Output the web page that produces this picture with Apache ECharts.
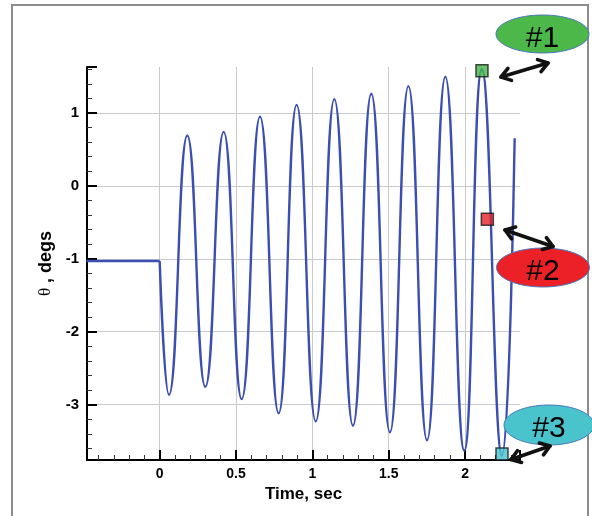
<!DOCTYPE html>
<html>
<head>
<meta charset="utf-8">
<script src="https://cdn.jsdelivr.net/npm/echarts@6/dist/echarts.min.js"></script>
<style>
  html, body { margin: 0; padding: 0; background: #ffffff; }
  #chart { width: 592px; height: 516px; }
</style>
</head>
<body>
<div id="chart"></div>
<script>
// Pitch angle response: steady trim, then growing oscillation after t = 0
const preStepTime  = [-0.48, 0];
const preStepTheta = [-1.03, -1.03];

// Turning points of the oscillation (time in s, theta in degrees)
const responseTime  = [0, 0.061, 0.181, 0.299, 0.419, 0.537, 0.657, 0.779, 0.897, 1.022,
                       1.144, 1.266, 1.386, 1.508, 1.629, 1.751, 1.871, 1.995, 2.110, 2.242, 2.325];
const responseTheta = [-1.03, -2.866, 0.69, -2.756, 0.74, -2.925, 0.95, -3.12, 1.11, -3.23,
                       1.19, -3.29, 1.263, -3.38, 1.368, -3.49, 1.496, -3.63, 1.60, -3.70, 0.654];

// Marked sample instants
const markerNames  = ['#1', '#2', '#3'];
const markerTime   = [2.111, 2.146, 2.242];
const markerTheta  = [1.58, -0.457, -3.676];
const markerColors = ['#45b549', '#e5222a', '#45c3cf'];

const xTickLabels = ['0', '0.5', '1', '1.5', '2'];
const yTickLabels = ['-3', '-2', '-1', '0', '1'];

const pair = (xs, ys) => xs.map((x, i) => [x, ys[i]]);

const chart = echarts.init(document.getElementById('chart'), null, { renderer: 'canvas' });

const FONT = '"Liberation Sans", Arial, Helvetica, sans-serif';
const CURVE = '#3b4fb3';

// double-headed callout arrow between two pixel points
function arrow(x1, y1, x2, y2) {
  const ang = Math.atan2(y2 - y1, x2 - x1);
  const L = 11, spread = 0.6;
  const head = (x, y, a) => [
    [x + L * Math.cos(a + spread), y + L * Math.sin(a + spread)],
    [x, y],
    [x + L * Math.cos(a - spread), y + L * Math.sin(a - spread)]
  ];
  const style = { stroke: '#111', lineWidth: 3.6, fill: null, lineCap: 'round', lineJoin: 'round' };
  return [
    { type: 'line', shape: { x1: x1, y1: y1, x2: x2, y2: y2 }, style: style, z: 100 },
    { type: 'polyline', shape: { points: head(x1, y1, ang) }, style: style, z: 100 },
    { type: 'polyline', shape: { points: head(x2, y2, ang + Math.PI) }, style: style, z: 100 }
  ];
}

function bubble(cx, cy, rx, ry, fill, label, ty) {
  return [
    { type: 'ellipse', shape: { cx: cx, cy: cy, rx: rx, ry: ry },
      style: { fill: fill, stroke: '#4a78be', lineWidth: 1 }, z: 100 },
    { type: 'text', x: cx, y: ty,
      style: { text: label, font: '30px ' + FONT, fill: '#000', align: 'center', verticalAlign: 'middle' }, z: 101 }
  ];
}

const graphics = [
  // slide frame
  { type: 'rect', shape: { x: 12, y: 5, width: 576, height: 540 },
    style: { fill: null, stroke: '#8c8c8c', lineWidth: 2 }, z: 0, silent: true }
]
  .concat(bubble(542.5, 34, 46.5, 19, '#4cb84a', markerNames[0], 38.5))
  .concat(arrow(501, 77, 548, 63))
  .concat(bubble(543, 267.5, 46.5, 19.5, '#ec2027', markerNames[1], 271.5))
  .concat(arrow(505, 230, 553, 246.5))
  .concat(bubble(549, 425, 45, 20, '#49c3cc', markerNames[2], 429))
  .concat(arrow(511, 459.5, 550, 446));

const option = {
  animation: false,
  backgroundColor: '#ffffff',
  grid: { left: 87, right: 72, top: 67, bottom: 56, containLabel: false },
  xAxis: {
    type: 'value',
    min: -0.476, max: 2.36,
    splitNumber: 5,
    name: 'Time, sec',
    nameLocation: 'middle',
    nameGap: 22,
    nameTextStyle: { fontFamily: FONT, fontWeight: 'bold', fontSize: 17, color: '#000' },
    axisLine: { show: true, onZero: false, lineStyle: { color: '#000', width: 2 } },
    axisTick: { show: true, inside: true, length: 10, lineStyle: { color: '#000', width: 2 } },
    minorTick: { show: true, splitNumber: 5, length: 5, lineStyle: { color: '#333', width: 1 } },
    axisLabel: {
      show: true, margin: 7, showMinLabel: false, showMaxLabel: false,
      fontFamily: FONT, fontWeight: 'bold', fontSize: 14, color: '#000',
      formatter: v => {
        const s = String(+v.toFixed(2));
        return xTickLabels.indexOf(s) >= 0 ? s : '';
      }
    },
    splitLine: { show: true, showMinLine: false, showMaxLine: false, lineStyle: { color: '#cacaca', width: 1 } },
    minorSplitLine: { show: false }
  },
  yAxis: {
    type: 'value',
    min: -3.76, max: 1.63,
    splitNumber: 5,
    name: '{t|θ} , degs',
    nameLocation: 'middle',
    nameGap: 32,
    nameRotate: 90,
    nameTextStyle: {
      fontFamily: FONT, fontWeight: 'bold', fontSize: 18, color: '#000',
      rich: { t: { fontFamily: '"Liberation Serif", serif', fontWeight: 'normal', fontSize: 17, color: '#000' } }
    },
    axisLine: { show: true, onZero: false, lineStyle: { color: '#000', width: 2 } },
    axisTick: { show: true, inside: true, length: 10, lineStyle: { color: '#000', width: 2 } },
    minorTick: { show: true, splitNumber: 5, length: 5, lineStyle: { color: '#333', width: 1 } },
    axisLabel: {
      show: true, margin: 8, showMinLabel: false, showMaxLabel: false,
      fontFamily: FONT, fontWeight: 'bold', fontSize: 15, color: '#000',
      formatter: v => {
        const s = String(+v.toFixed(2));
        return yTickLabels.indexOf(s) >= 0 ? s : '';
      }
    },
    splitLine: { show: true, showMinLine: false, showMaxLine: false, lineStyle: { color: '#cacaca', width: 1 } }
  },
  series: [
    {
      name: 'trim',
      type: 'line',
      data: pair(preStepTime, preStepTheta),
      showSymbol: false,
      lineStyle: { color: CURVE, width: 2.4 },
      z: 3
    },
    {
      name: 'response',
      type: 'line',
      data: pair(responseTime, responseTheta),
      smooth: 0.5,
      showSymbol: false,
      lineStyle: { color: CURVE, width: 2.4 },
      z: 3
    },
    {
      name: 'samples',
      type: 'scatter',
      clip: false,
      symbol: 'rect',
      symbolSize: 12,
      data: markerTime.map((t, i) => ({
        name: markerNames[i],
        value: [t, markerTheta[i]],
        itemStyle: { color: markerColors[i], borderColor: '#1a1a1a', borderWidth: 1.5 }
      })),
      z: 5
    }
  ],
  graphic: graphics
};

chart.setOption(option);
</script>
</body>
</html>
